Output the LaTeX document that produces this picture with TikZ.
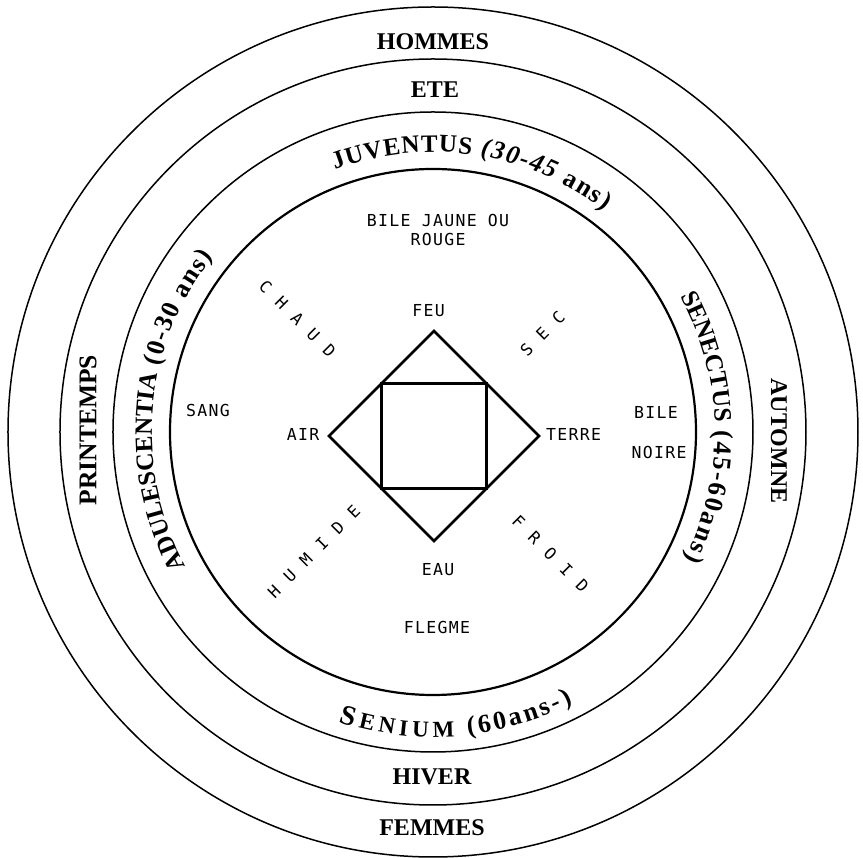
\documentclass[tikz,border=0pt]{standalone}
\usepackage{fontspec}
\usetikzlibrary{decorations.text,calc}
\newfontfamily\labfont{Liberation Serif}
\newfontfamily\innerfam[LetterSpace=8]{DejaVu Sans Mono}
\newfontfamily\diagfam{DejaVu Sans Mono}
\newcommand\ringtxt{\labfont\bfseries\fontsize{24pt}{24pt}\selectfont}
\newcommand\bigringtxt{\labfont\bfseries\fontsize{25.5pt}{25.5pt}\selectfont}
\newcommand\arcword{\labfont\bfseries\fontsize{25pt}{25pt}\selectfont}
\newcommand\arcparen{\labfont\bfseries\fontsize{26pt}{26pt}\selectfont}
\newcommand\arcparenit{\labfont\bfseries\itshape\fontsize{26pt}{26pt}\selectfont}
\newcommand\senS{\labfont\bfseries\fontsize{28pt}{28pt}\selectfont}
\newcommand\senrest{\labfont\bfseries\fontsize{23pt}{23pt}\selectfont}
\newcommand\innertxt{\innerfam\fontsize{16.5pt}{16.5pt}\selectfont}
\newcommand\diagtxt{\diagfam\fontsize{16.5pt}{16.5pt}\selectfont}
\newcommand\dk{\kern12.6pt}
\begin{document}
\begin{tikzpicture}[x=1pt,y=1pt,
  ringline/.style={line width=1.5pt},
  coreline/.style={line width=2.2pt},
  diamondline/.style={line width=2.6pt, line join=miter},
  squareline/.style={line width=3pt},
  ringlab/.style={inner sep=0pt, font=\ringtxt},
  innerlab/.style={inner sep=0pt, font=\innertxt},
  diaglab/.style={inner sep=0pt, font=\diagtxt}]
\useasboundingbox (-433,-426) rectangle (430,432);
\coordinate (O) at (0,0);
% circles
\draw[ringline] (O) circle[radius=425pt];
\draw[ringline] (O) circle[radius=373pt];
\draw[ringline] (O) circle[radius=320pt];
\draw[coreline] (O) circle[radius=263pt];
% diamond and square
\coordinate (feuV) at (1,101);
\coordinate (airV) at (-104,-4);
\coordinate (terreV) at (106,-4);
\coordinate (eauV) at (1,-109);
\draw[diamondline] (feuV) -- (terreV) -- (eauV) -- (airV) -- cycle;
\coordinate (sqA) at ($(feuV)!0.5!(airV)$);
\coordinate (sqB) at ($(feuV)!0.5!(terreV)$);
\coordinate (sqC) at ($(eauV)!0.5!(terreV)$);
\coordinate (sqD) at ($(eauV)!0.5!(airV)$);
\draw[squareline] (sqA) -- (sqB) -- (sqC) -- (sqD) -- cycle;
% ring labels
\node[ringlab] (hommes) at (0,390.5) {HOMMES};
\node[ringlab] (ete) at (2,342.5) {ETE};
\node[ringlab] (hiver) at (-1,-345) {HIVER};
\node[ringlab] (femmes) at (-1,-396) {FEMMES};
\node[ringlab, font=\bigringtxt, rotate=90] (printemps) at (-345,2) {PRINTEMPS};
\node[ringlab, rotate=-90] (automne) at (346,-9) {AUTOMNE};
% curved age labels
\path[decorate, decoration={text along path, text align=center,
  text={|\arcword\kern1pt|JUVENTUS |\arcparenit\kern1.5pt|(30-45 |\arcparen\kern1.5pt|ans)}}]
  (131.5:280pt) arc[start angle=131.5, end angle=31.5, radius=280pt];
\path[decorate, decoration={text along path, text align=center,
  text={|\arcword|ADULESCENTIA |\arcparen\kern1.5pt|(0-30 ans)}}]
  (235:281pt) arc[start angle=235, end angle=115, radius=281pt];
\path[decorate, decoration={text along path, text align=center,
  text={|\arcword|SENECTUS |\arcparen\kern2pt|(45-60ans)}}]
  (51:282pt) arc[start angle=51, end angle=-49, radius=282pt];
\path[decorate, decoration={text along path, text align=center,
  text={|\senS\kern3pt|S|\senrest\kern4.5pt|ENIUM |\arcparen\kern3pt|(60ans-)}}]
  (224.4:305pt) arc[start angle=224.4, end angle=324.4, radius=305pt];
% inner labels
\node[innerlab] (bilej) at (5,211) {BILE JAUNE OU};
\node[innerlab] (rouge) at (5,192.5) {ROUGE};
\node[innerlab] (feu) at (-4.5,121) {FEU};
\node[innerlab] (air) at (-130,-2) {AIR};
\node[innerlab] (terre) at (140.5,-2) {TERRE};
\node[innerlab] (eau) at (5,-137.5) {EAU};
\node[innerlab] (flegme) at (4,-195) {FLEGME};
\node[innerlab] (sang) at (-225,21) {SANG};
\node[innerlab] (bilen) at (223,20) {BILE};
\node[innerlab] (noire) at (226,-21) {NOIRE};
% diagonal qualities
\node[diaglab, rotate=-45] (chaud) at (-135.5,113) {C\dk H\dk A\dk U\dk D};
\node[diaglab, rotate=45] (sec) at (109.5,98) {S\dk E\dk C};
\node[diaglab, rotate=45] (humide) at (-119,-119.5) {H\dk U\dk M\dk I\dk D\dk E};
\node[diaglab, rotate=-45] (froid) at (117.5,-122) {F\dk R\dk O\dk I\dk D};
\end{tikzpicture}
\end{document}
